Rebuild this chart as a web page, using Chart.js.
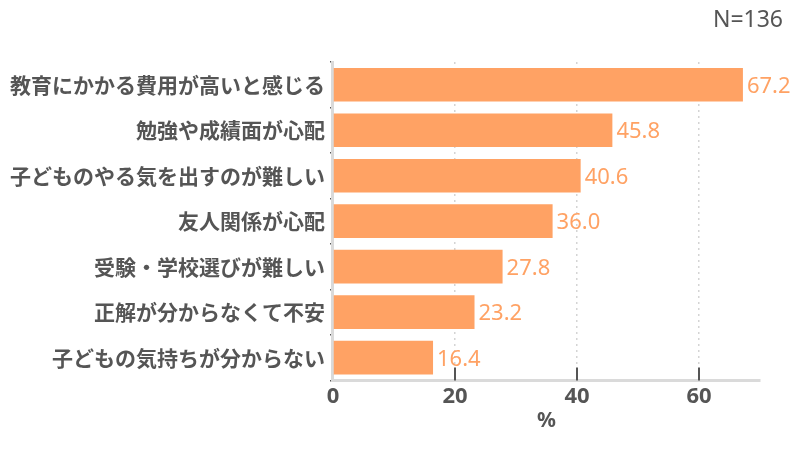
<!DOCTYPE html>
<html><head><meta charset="utf-8">
<script src="https://cdn.jsdelivr.net/npm/chart.js@4.4.0/dist/chart.umd.min.js"></script>
<style>html,body{margin:0;padding:0;background:#fff}#wrap{width:800px;height:450px;position:relative}</style>
</head><body><div id="wrap"><canvas id="c" width="800" height="450"></canvas></div>
<script>
const categories = ['教育にかかる費用が高いと感じる','勉強や成績面が心配','子どものやる気を出すのが難しい','友人関係が心配','受験・学校選びが難しい','正解が分からなくて不安','子どもの気持ちが分からない'];
const values = [67.2, 45.8, 40.6, 36.0, 27.8, 23.2, 16.4];
const xTicks = [0, 20, 40, 60];
const noteText = 'N=136';
const axisTitle = '%';

const FONT = "'Noto Sans CJK JP', 'Noto Sans', sans-serif";
const NUMFONT = "'Noto Sans', 'Noto Sans CJK JP', sans-serif";
const BAR = '#FFA264';

const extras = {
  id: 'extras',
  afterDatasetsDraw(chart) {
    const ctx = chart.ctx;
    const meta = chart.getDatasetMeta(0);
    const xs = chart.scales.x;
    ctx.save();
    ctx.font = '22px ' + NUMFONT;
    ctx.fillStyle = '#FFA264';
    ctx.textBaseline = 'middle';
    ctx.textAlign = 'left';
    meta.data.forEach((bar, i) => {
      ctx.fillText(values[i].toFixed(1), bar.x + 4, bar.y + 2);
    });
    ctx.strokeStyle = '#555';
    ctx.lineWidth = 2;
    xTicks.forEach(v => {
      if (v === 0) return;
      const px = Math.round(xs.getPixelForValue(v));
      ctx.beginPath();
      ctx.moveTo(px, xs.top - 13);
      ctx.lineTo(px, xs.top);
      ctx.stroke();
    });
    ctx.font = '23px ' + NUMFONT;
    ctx.fillStyle = '#555';
    ctx.textAlign = 'right';
    ctx.textBaseline = 'middle';
    ctx.fillText(noteText, 783, 20);
    ctx.restore();
  }
};

new Chart(document.getElementById('c'), {
  type: 'bar',
  data: {
    labels: categories,
    datasets: [{ data: values, backgroundColor: BAR, borderWidth: 0, barPercentage: 0.74, categoryPercentage: 1.0 }]
  },
  options: {
    indexAxis: 'y',
    responsive: false,
    animation: false,
    devicePixelRatio: 1,
    layout: { padding: { top: 62, right: 40, left: 5, bottom: 16 } },
    plugins: { legend: { display: false }, tooltip: { enabled: false } },
    scales: {
      x: {
        min: 0, max: 70,
        afterBuildTicks(scale) { scale.ticks = xTicks.map(v => ({ value: v })); },
        grid: { color: (c) => c.tick && c.tick.value === 0 ? 'rgba(0,0,0,0)' : '#d4d4d4', lineWidth: 1.5, drawTicks: false },
        border: { display: true, color: '#dadada', width: 3, dash: [2, 4] },
        ticks: { color: '#555', font: { family: NUMFONT, size: 22, weight: 'bold' }, padding: 3 },
        title: { display: true, text: axisTitle, color: '#555', font: { family: NUMFONT, size: 21, weight: 'bold' }, padding: { top: -4, bottom: 0 } }
      },
      y: {
        grid: { display: true, drawOnChartArea: false, tickLength: 3, color: '#555', lineWidth: 1.5 },
        border: { display: true, color: '#dadada', width: 3 },
        ticks: { color: '#555', font: { family: FONT, size: 21, weight: 'bold' }, padding: 5 }
      }
    }
  },
  plugins: [extras]
});
</script></body></html>
